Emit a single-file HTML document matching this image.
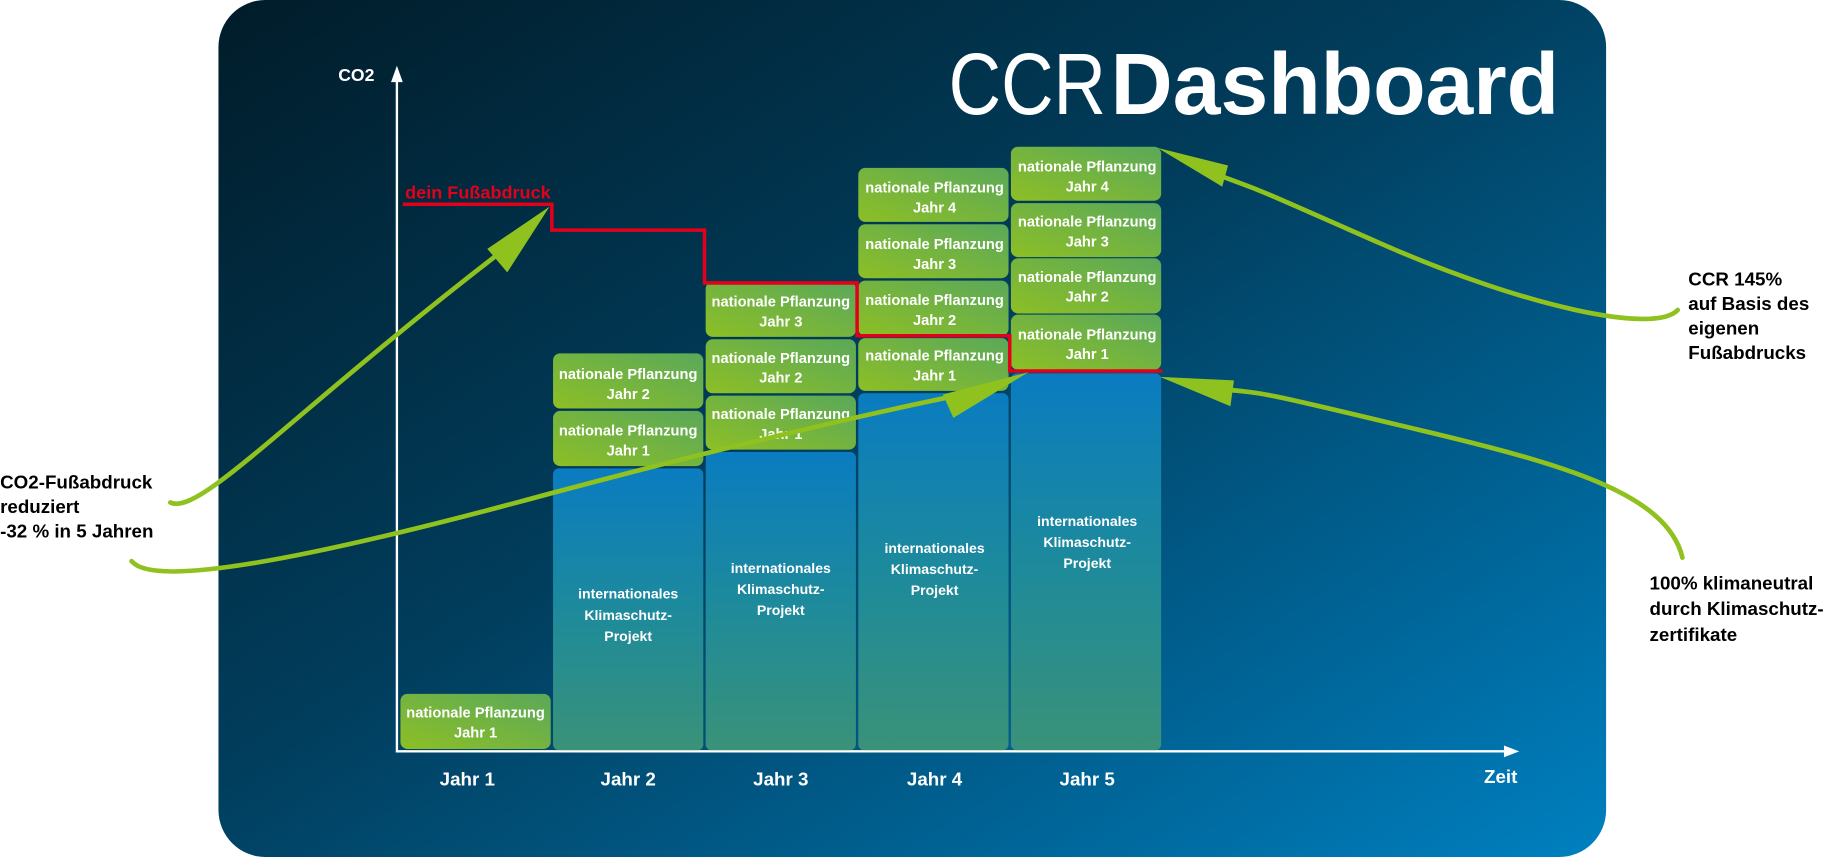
<!DOCTYPE html>
<html><head><meta charset="utf-8"><style>
html,body{margin:0;padding:0;background:#fff;overflow:hidden}
svg{display:block}
text{font-family:"Liberation Sans Narrow","Liberation Sans",sans-serif;font-weight:bold}
</style></head><body>
<svg width="1841" height="857" viewBox="0 0 1568 730" xmlns="http://www.w3.org/2000/svg">
<defs>
<linearGradient id="bg" x1="0" y1="0" x2="1" y2="1">
<stop offset="0" stop-color="#011c29"/><stop offset="0.45" stop-color="#013d5c"/><stop offset="1" stop-color="#0080c0"/>
</linearGradient>
<linearGradient id="gb" x1="0" y1="1" x2="1" y2="0">
<stop offset="0" stop-color="#8dbf25"/><stop offset="1" stop-color="#5aa85a"/>
</linearGradient>
<linearGradient id="bl" x1="0" y1="0" x2="0" y2="1">
<stop offset="0" stop-color="#0a7cc0"/><stop offset="0.5" stop-color="#1d8a9c"/><stop offset="1" stop-color="#3a9278"/>
</linearGradient>
</defs>
<rect x="186" y="0" width="1182" height="730" rx="40" fill="url(#bg)"/>
<text x="808" y="97" font-size="74" fill="#fff" style="font-weight:normal;font-family:'Liberation Sans','DejaVu Sans',sans-serif" textLength="134" lengthAdjust="spacingAndGlyphs">CCR</text>
<text x="946" y="97" font-size="74" fill="#fff" style="font-family:'Liberation Sans',sans-serif" textLength="382" lengthAdjust="spacingAndGlyphs">Dashboard</text>
<!-- axes -->
<line x1="338" y1="66" x2="338" y2="641" stroke="#fff" stroke-width="2"/>
<polygon points="338,56 333,70 343,70" fill="#fff"/>
<line x1="338" y1="640" x2="1284" y2="640" stroke="#fff" stroke-width="2"/>
<polygon points="1294,640 1281,635 1281,645" fill="#fff"/>
<text x="288" y="69" font-size="15" fill="#fff">CO2</text>
<text x="1264" y="667" font-size="16" fill="#fff">Zeit</text>
<g font-size="16" fill="#fff" text-anchor="middle">
<text x="398" y="669">Jahr 1</text><text x="535" y="669">Jahr 2</text><text x="665" y="669">Jahr 3</text><text x="796" y="669">Jahr 4</text><text x="926" y="669">Jahr 5</text>
</g>
<!-- blue columns -->
<g fill="url(#bl)">
<rect x="471" y="399" width="128" height="240" rx="5"/>
<rect x="601" y="385" width="128" height="254" rx="5"/>
<rect x="731" y="335" width="128" height="304" rx="5"/>
<rect x="861" y="318" width="128" height="321" rx="5"/>
</g>
<g font-size="12" fill="#fff" text-anchor="middle">
<text x="535" y="510">internationales</text><text x="535" y="528">Klimaschutz-</text><text x="535" y="546">Projekt</text>
<text x="665" y="488">internationales</text><text x="665" y="506">Klimaschutz-</text><text x="665" y="524">Projekt</text>
<text x="796" y="471">internationales</text><text x="796" y="489">Klimaschutz-</text><text x="796" y="507">Projekt</text>
<text x="926" y="448">internationales</text><text x="926" y="466">Klimaschutz-</text><text x="926" y="484">Projekt</text>
</g>
<!-- green boxes -->
<g fill="url(#gb)">
<rect x="341" y="591" width="128" height="47" rx="6"/>
<rect x="471" y="301" width="128" height="47" rx="6"/><rect x="471" y="350" width="128" height="47" rx="6"/>
<rect x="601" y="240" width="128" height="47" rx="6"/><rect x="601" y="289" width="128" height="46" rx="6"/><rect x="601" y="337" width="128" height="46" rx="6"/>
<rect x="731" y="143" width="128" height="46" rx="6"/><rect x="731" y="191" width="128" height="46" rx="6"/><rect x="731" y="239" width="128" height="47" rx="6"/><rect x="731" y="288" width="128" height="45" rx="6"/>
<rect x="861" y="125" width="128" height="46" rx="6"/><rect x="861" y="173" width="128" height="46" rx="6"/><rect x="861" y="220" width="128" height="47" rx="6"/><rect x="861" y="268" width="128" height="47" rx="6"/>
</g>
<g font-size="12.5" fill="#fff" text-anchor="middle">
<text x="405" y="611" textLength="118" lengthAdjust="spacingAndGlyphs">nationale Pflanzung</text><text x="405" y="628">Jahr 1</text>
<text x="535" y="323" textLength="118" lengthAdjust="spacingAndGlyphs">nationale Pflanzung</text><text x="535" y="340">Jahr 2</text>
<text x="535" y="371" textLength="118" lengthAdjust="spacingAndGlyphs">nationale Pflanzung</text><text x="535" y="388">Jahr 1</text>
<text x="665" y="261" textLength="118" lengthAdjust="spacingAndGlyphs">nationale Pflanzung</text><text x="665" y="278">Jahr 3</text>
<text x="665" y="309" textLength="118" lengthAdjust="spacingAndGlyphs">nationale Pflanzung</text><text x="665" y="326">Jahr 2</text>
<text x="665" y="357" textLength="118" lengthAdjust="spacingAndGlyphs">nationale Pflanzung</text><text x="665" y="374">Jahr 1</text>
<text x="796" y="164" textLength="118" lengthAdjust="spacingAndGlyphs">nationale Pflanzung</text><text x="796" y="181">Jahr 4</text>
<text x="796" y="212" textLength="118" lengthAdjust="spacingAndGlyphs">nationale Pflanzung</text><text x="796" y="229">Jahr 3</text>
<text x="796" y="260" textLength="118" lengthAdjust="spacingAndGlyphs">nationale Pflanzung</text><text x="796" y="277">Jahr 2</text>
<text x="796" y="307" textLength="118" lengthAdjust="spacingAndGlyphs">nationale Pflanzung</text><text x="796" y="324">Jahr 1</text>
<text x="926" y="146" textLength="118" lengthAdjust="spacingAndGlyphs">nationale Pflanzung</text><text x="926" y="163">Jahr 4</text>
<text x="926" y="193" textLength="118" lengthAdjust="spacingAndGlyphs">nationale Pflanzung</text><text x="926" y="210">Jahr 3</text>
<text x="926" y="240" textLength="118" lengthAdjust="spacingAndGlyphs">nationale Pflanzung</text><text x="926" y="257">Jahr 2</text>
<text x="926" y="289" textLength="118" lengthAdjust="spacingAndGlyphs">nationale Pflanzung</text><text x="926" y="306">Jahr 1</text>
</g>
<!-- red line -->
<polyline points="343,174 470,174 470,196 600,196 600,241 730,241 730,286 860,286 860,316 990,316" fill="none" stroke="#e3001b" stroke-width="3"/>
<text x="345" y="169" font-size="15" fill="#e3001b" textLength="124" lengthAdjust="spacingAndGlyphs">dein Fußabdruck</text>
<!-- green arrows -->
<g fill="none" stroke="#8fc11f" stroke-width="4" stroke-linecap="round">
<path d="M145,428 C170,440 250,350 430,212"/>
<path d="M112,478 C130,500 250,480 470,420 C620,380 750,350 820,336"/>
<path d="M1429,264 C1410,285 1300,262 1175,207 S1080,165 1040,150"/>
<path d="M1433,475 C1420,420 1330,395 1208,366 S1080,335 1045,332"/>
</g>
<g fill="#8fc11f">
<polygon points="468,176 415,212 432,232"/>
<polygon points="876,317 803,336 812,356"/>
<polygon points="986,126 1046,141 1041,159"/>
<polygon points="988,321 1051,324 1048,346"/>
</g>
<!-- side texts -->
<g font-size="16" fill="#000">
<text x="0" y="416">CO2-Fußabdruck</text><text x="0" y="437">reduziert</text><text x="0" y="458">-32 % in 5 Jahren</text>
<text x="1438" y="243">CCR 145%</text><text x="1438" y="264">auf Basis des</text><text x="1438" y="285">eigenen</text><text x="1438" y="306">Fußabdrucks</text>
<text x="1405" y="502">100% klimaneutral</text><text x="1405" y="524">durch Klimaschutz-</text><text x="1405" y="546">zertifikate</text>
</g>
</svg>
</body></html>
